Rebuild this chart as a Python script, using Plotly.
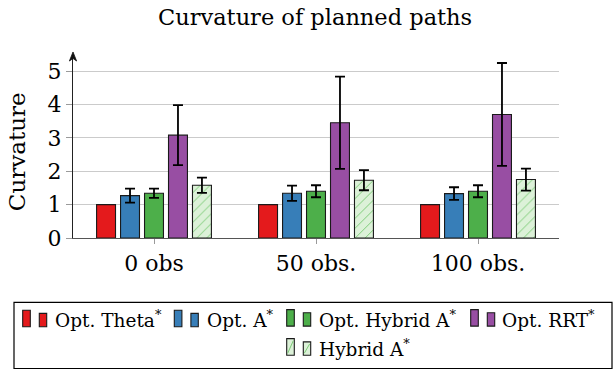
import plotly.graph_objects as go

# ---- data ----
categories = ["0 obs", "50 obs.", "100 obs."]
series_names = ["Opt. Theta*", "Opt. A*", "Opt. Hybrid A*", "Opt. RRT*", "Hybrid A*"]
theta_mean = [1.0, 1.0, 1.0]
astar_mean = [1.27, 1.34, 1.33]
astar_err = [0.21, 0.23, 0.19]
opt_hybrid_mean = [1.34, 1.40, 1.40]
opt_hybrid_err = [0.14, 0.18, 0.18]
rrt_mean = [3.08, 3.45, 3.70]
rrt_err = [0.90, 1.38, 1.54]
hybrid_mean = [1.58, 1.73, 1.75]
hybrid_err = [0.23, 0.30, 0.33]
y_ticks = [0, 1, 2, 3, 4, 5]

colors = ["#e41a1c", "#377eb8", "#4daf4a", "#984ea3", "#dcf1d8"]
hatch_line = "#7ccb77"
FONT = "DejaVu Serif"

# plot-area geometry (pixels)
W_FIG, H_FIG = 616, 370
L, R, T, B = 73, 559, 55, 237.7
PW, PH = R - L, B - T


def px(x):
    return (x - L) / PW


def py(y):
    return (B - y) / PH


fig = go.Figure()

means = [theta_mean, astar_mean, opt_hybrid_mean, rrt_mean, hybrid_mean]
errs = [None, astar_err, opt_hybrid_err, rrt_err, hybrid_err]
for i, (name, m, e) in enumerate(zip(series_names, means, errs)):
    marker = dict(color=colors[i], line=dict(color="#1a1a1a", width=1.1))
    if i == 4:
        marker["pattern"] = dict(shape="/", fgcolor=hatch_line, bgcolor=colors[i],
                                 size=7, solidity=0.14, fillmode="replace")
    bar = go.Bar(x=categories, y=m, name=name, marker=marker, showlegend=False)
    if e is not None:
        bar.error_y = dict(type="data", array=e, visible=True, color="black",
                           thickness=1.8, width=5)
    fig.add_trace(bar)

fig.update_layout(
    width=W_FIG, height=H_FIG,
    margin=dict(l=L, r=W_FIG - R, t=T, b=H_FIG - B, pad=0),
    paper_bgcolor="white", plot_bgcolor="white",
    barmode="group", bargap=0.26, bargroupgap=0.21,
    font=dict(family=FONT, color="black"),
)
fig.update_xaxes(
    range=[-0.5, 2.5], showline=True, linecolor="#555", linewidth=1.4,
    ticks="outside", ticklen=5, tickcolor="#9a9a9a", tickwidth=1,
    tickfont=dict(size=22), showgrid=False, zeroline=False,
)
fig.update_yaxes(
    range=[0, 5.48], tickvals=y_ticks, showline=True, linecolor="#222",
    linewidth=1.2, ticks="outside", ticklen=6, tickcolor="#9a9a9a",
    tickwidth=1, tickfont=dict(size=22), showgrid=True, gridcolor="#cbcbcb",
    gridwidth=1.3, zeroline=False,
)

# arrowhead at the top of the y axis
ax_x = L
fig.add_shape(
    type="path", xref="paper", yref="paper",
    path=(f"M {px(ax_x)},{py(52)} L {px(ax_x - 3.6)},{py(61)} "
          f"L {px(ax_x)},{py(58.5)} L {px(ax_x + 3.6)},{py(61)} Z"),
    fillcolor="#111", line=dict(color="#111", width=0.8),
)

# title and y-axis label
fig.add_annotation(x=px(315), y=py(17), xref="paper", yref="paper",
                   text="Curvature of planned paths", showarrow=False,
                   font=dict(size=22.5), xanchor="center", yanchor="middle")
fig.add_annotation(x=px(17), y=py(152), xref="paper", yref="paper",
                   text="Curvature", showarrow=False, textangle=-90,
                   font=dict(size=23), xanchor="center", yanchor="middle")

# ---- legend box ----
fig.add_shape(type="rect", xref="paper", yref="paper",
              x0=px(14), x1=px(612), y0=py(302), y1=py(368),
              line=dict(color="black", width=1.2), fillcolor="white")

legend_rows = [
    # (icon left x, row bottom y, text left x)
    (22.7, 326.3, 53.3),
    (174.3, 326.3, 205.0),
    (286.7, 325.7, 316.7),
    (470.7, 325.7, 500.0),
    (286.7, 354.7, 316.7),
]
for i, (x0, yb, tx) in enumerate(legend_rows):
    fill = colors[i]
    tall = dict(x0=x0, x1=x0 + 7.6, y0=yb - 16.5, y1=yb)
    small = dict(x0=x0 + 16.6, x1=x0 + 24.0, y0=yb - 13.3, y1=yb)
    for box in (tall, small):
        fig.add_shape(type="rect", xref="paper", yref="paper",
                      x0=px(box["x0"]), x1=px(box["x1"]),
                      y0=py(box["y1"]), y1=py(box["y0"]),
                      line=dict(color="#1a1a1a", width=1.1), fillcolor=fill)
        if i == 4:
            fig.add_shape(type="line", xref="paper", yref="paper",
                          x0=px(box["x0"] + 1), y0=py(box["y1"] - 2),
                          x1=px(box["x1"] - 1), y1=py(box["y0"] + 2),
                          line=dict(color=hatch_line, width=1))
    label = series_names[i].replace("*", "<sup>*</sup>")
    fig.add_annotation(x=px(tx), y=py(yb - 7.5), xref="paper", yref="paper",
                       text=label, showarrow=False, xanchor="left",
                       yanchor="middle", font=dict(size=18.5))

fig.write_html("out.html")
